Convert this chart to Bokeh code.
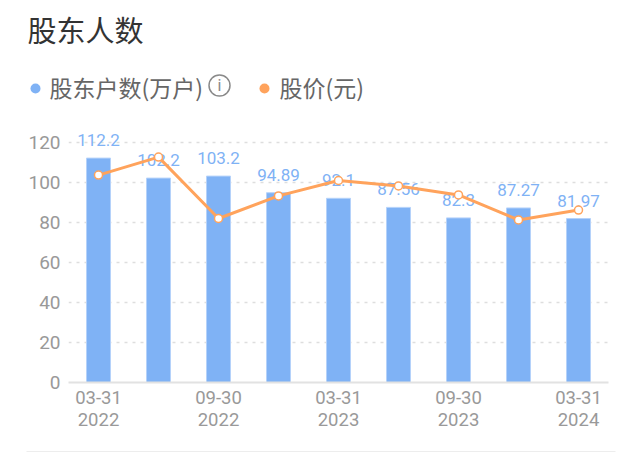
from bokeh.plotting import figure
from bokeh.layouts import column, row
from bokeh.models import ColumnDataSource, FixedTicker, Range1d
from bokeh.core.properties import value
from bokeh.embed import file_html
from bokeh.resources import INLINE

title_text = "股东人数"
legend_names = ["股东户数(万户)", "股价(元)"]
dates = ["03-31\n2022", "06-30\n2022", "09-30\n2022", "12-31\n2022", "03-31\n2023",
         "06-30\n2023", "09-30\n2023", "12-31\n2023", "03-31\n2024"]
holders = [112.2, 102.2, 103.2, 94.89, 92.1, 87.56, 82.3, 87.27, 81.97]
holder_labels = ["112.2", "102.2", "103.2", "94.89", "92.1", "87.56", "82.3", "87.27", "81.97"]
price_scaled = [103.7, 112.7, 82.0, 93.3, 101.0, 98.3, 93.8, 81.3, 86.2]
y_ticks = [0, 20, 40, 60, 80, 100, 120]
x_shown = [0, 2, 4, 6, 8]

BLUE, ORANGE = "#7fb2f5", "#ffa35c"
CJK = value("Noto Sans CJK SC")


def bare(h, ymax):
    f = figure(width=640, height=h, output_backend="svg", toolbar_location=None,
               x_range=Range1d(0, 640), y_range=Range1d(ymax, 0),
               x_axis_location=None, y_axis_location=None,
               min_border_left=0, min_border_right=0, min_border_top=0, min_border_bottom=0)
    f.outline_line_color = None
    f.grid.visible = False
    return f


# header: title and legend, in pixel-like coordinates
head = bare(122, 122)
head.text(x=[27], y=[28], text=[title_text], text_font=CJK, text_font_size="29px",
          text_color="#333333", text_baseline="middle")
head.scatter(x=[35, 264], y=[88, 88], size=10, fill_color=[BLUE, ORANGE], line_color=None)
head.text(x=[49, 279], y=[86, 86], text=legend_names, text_font=CJK, text_font_size="23px",
          text_color="#666666", text_baseline="middle")
head.scatter(x=[219], y=[85], size=21, fill_color=None, line_color="#8a8a8a", line_width=1.5)
head.text(x=[219], y=[85], text=["i"], text_font=value("Roboto"), text_font_size="16px",
          text_color="#8a8a8a", text_align="center", text_baseline="middle")

src = ColumnDataSource(dict(x=list(range(len(holders))), h=holders, lab=holder_labels, pr=price_scaled))

p = figure(width=640, height=320, output_backend="svg", toolbar_location=None,
           x_range=Range1d(-0.5, 8.5), y_range=Range1d(0, 130),
           min_border_left=68, min_border_right=32, min_border_top=0, min_border_bottom=60)
p.outline_line_color = None
p.xgrid.grid_line_color = None
p.ygrid.ticker = FixedTicker(ticks=y_ticks[1:])
p.ygrid.grid_line_color = "#dedede"
p.ygrid.grid_line_width = 1.5
p.ygrid.grid_line_dash = "3 5"

p.yaxis.ticker = FixedTicker(ticks=y_ticks)
p.yaxis.axis_line_color = None
p.yaxis.major_tick_line_color = None
p.yaxis.minor_tick_line_color = None
p.yaxis.major_label_text_font = "Roboto"
p.yaxis.major_label_text_font_size = "19px"
p.yaxis.major_label_text_color = "#999999"
p.yaxis.major_label_standoff = 2

p.xaxis.ticker = FixedTicker(ticks=x_shown)
p.xaxis.major_label_overrides = {i: dates[i] for i in x_shown}
p.xaxis.axis_line_color = "#e2e2e2"
p.xaxis.axis_line_width = 2
p.xaxis.major_tick_line_color = None
p.xaxis.minor_tick_line_color = None
p.xaxis.major_label_text_font = "Roboto"
p.xaxis.major_label_text_font_size = "18.5px"
p.xaxis.major_label_text_color = "#999999"
p.xaxis.major_label_text_line_height = 1.0
p.xaxis.major_label_standoff = -2

p.vbar(x="x", top="h", width=0.4, source=src, fill_color=BLUE, line_color="#b5d2fa", line_width=1)
p.text(x="x", y="h", text="lab", source=src, text_align="center", text_baseline="bottom", y_offset=-12,
       text_font=value("Roboto"), text_font_size="17px", text_color=BLUE)
p.line(x="x", y="pr", source=src, line_color=ORANGE, line_width=3)
p.scatter(x="x", y="pr", source=src, size=8, fill_color="white", line_color=ORANGE, line_width=1.5)

# footer: thin divider
foot = bare(10, 10)
foot.segment(x0=[26], y0=[8.5], x1=[615], y1=[8.5], line_color="#dcdcdc", line_width=3)

open("out.html", "w").write(file_html(column(row(head), row(p), row(foot), spacing=0), INLINE))
